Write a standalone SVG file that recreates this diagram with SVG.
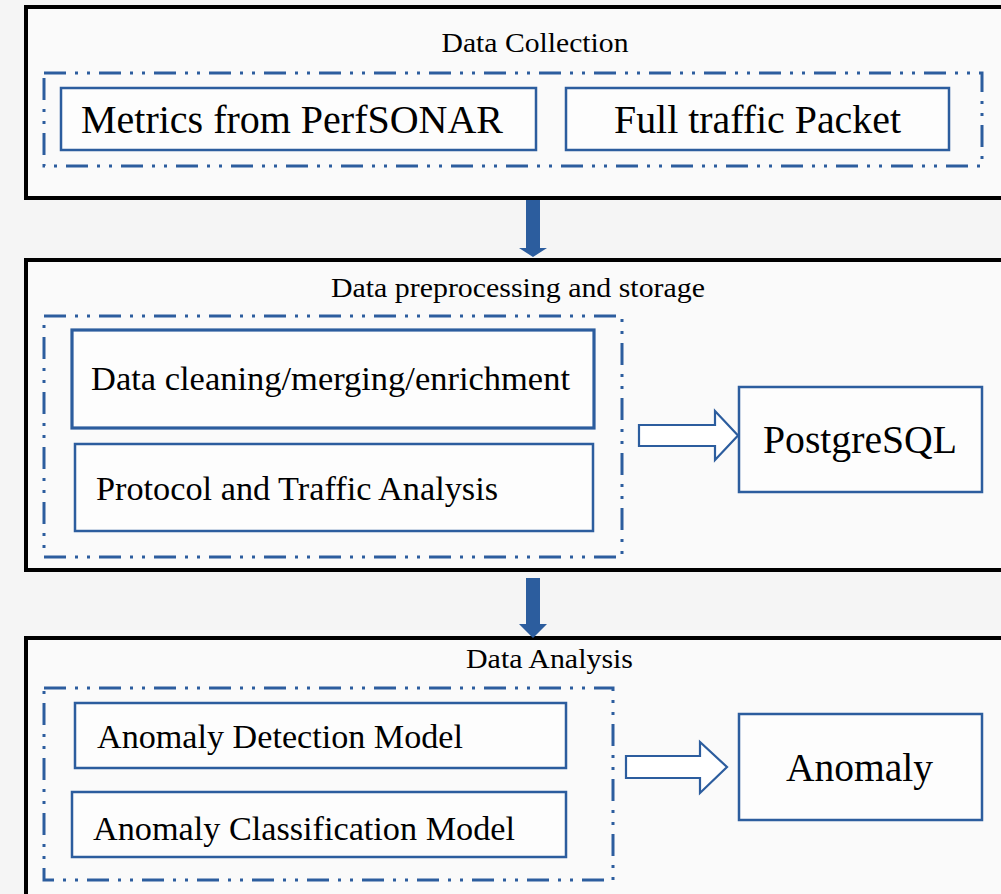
<svg xmlns="http://www.w3.org/2000/svg" width="1001" height="894" viewBox="0 0 1001 894">
<style>
.stage{fill:#fafafa;stroke:#000;stroke-width:4}
.group{fill:none;stroke:#2c5d9e;stroke-width:3;stroke-dasharray:22 9 3 9 3 9}
.box{fill:#fdfdfd;stroke:#2c5d9e;stroke-width:2.5}
.t{font-family:"Liberation Serif","Times New Roman",serif;fill:#000}
.title{font-size:28px;text-anchor:middle}
.big{font-size:40px}
.mid{font-size:34px}
.down{fill:#2c5d9e;stroke:none}
.hollow{fill:#fff;stroke:#2c5d9e;stroke-width:2.2;stroke-linejoin:miter}
</style>
<rect x="0" y="0" width="1001" height="894" fill="#f5f5f5"/>

<g id="stage1">
<rect class="stage" x="26" y="7" width="980" height="191"/>
<text class="t title" x="535" y="52" textLength="187" lengthAdjust="spacingAndGlyphs">Data Collection</text>
</g>
<g id="group1"><rect class="group" x="44" y="73" width="938" height="93"/></g>
<g id="metrics">
<rect class="box" x="61" y="88" width="475" height="62"/>
<text class="t big" x="81" y="133" textLength="422" lengthAdjust="spacingAndGlyphs">Metrics from PerfSONAR</text>
</g>
<g id="fulltraffic">
<rect class="box" x="566" y="88" width="383" height="62"/>
<text class="t big" x="614" y="133" textLength="287" lengthAdjust="spacingAndGlyphs">Full traffic Packet</text>
</g>

<g id="stage2">
<rect class="stage" x="26" y="260" width="980" height="310"/>
<text class="t title" x="518" y="297" textLength="374" lengthAdjust="spacingAndGlyphs">Data preprocessing and storage</text>
</g>
<g id="group2"><rect class="group" x="44" y="316" width="578" height="241"/></g>
<g id="cleaning">
<rect class="box" x="72" y="330" width="522" height="98" style="stroke-width:3.2"/>
<text class="t mid" x="91" y="390" textLength="479" lengthAdjust="spacingAndGlyphs">Data cleaning/merging/enrichment</text>
</g>
<g id="protocol">
<rect class="box" x="75" y="444" width="518" height="87"/>
<text class="t mid" x="96" y="500" textLength="402" lengthAdjust="spacingAndGlyphs">Protocol and Traffic Analysis</text>
</g>
<g id="postgresql">
<rect class="box" x="739" y="387" width="243" height="105"/>
<text class="t big" x="763" y="453" textLength="194" lengthAdjust="spacingAndGlyphs">PostgreSQL</text>
</g>

<g id="stage3">
<rect class="stage" x="26" y="638" width="980" height="270"/>
<text class="t title" x="549.5" y="668" textLength="167" lengthAdjust="spacingAndGlyphs">Data Analysis</text>
</g>
<g id="group3"><rect class="group" x="44" y="688" width="569" height="192"/></g>
<g id="detection">
<rect class="box" x="75" y="703" width="491" height="65"/>
<text class="t mid" x="97" y="748" textLength="366" lengthAdjust="spacingAndGlyphs">Anomaly Detection Model</text>
</g>
<g id="classification">
<rect class="box" x="72" y="792" width="494" height="65"/>
<text class="t mid" x="93" y="840" textLength="422" lengthAdjust="spacingAndGlyphs">Anomaly Classification Model</text>
</g>
<g id="anomaly">
<rect class="box" x="739" y="714" width="243" height="106"/>
<text class="t big" x="786" y="781" textLength="147" lengthAdjust="spacingAndGlyphs">Anomaly</text>
</g>

<g id="connectors">
<polygon class="down" points="526,200 540,200 540,248 547,248 533,257 519,248 526,248"/>
<polygon class="down" points="526,578 540,578 540,624 547,624 533,638 519,624 526,624"/>
<polygon class="hollow" points="639,425 715,425 715,411 738,435.5 715,460 715,446 639,446"/>
<polygon class="hollow" points="626,756 700,756 700,742 727,767 700,793 700,778 626,778"/>
</g>
</svg>
